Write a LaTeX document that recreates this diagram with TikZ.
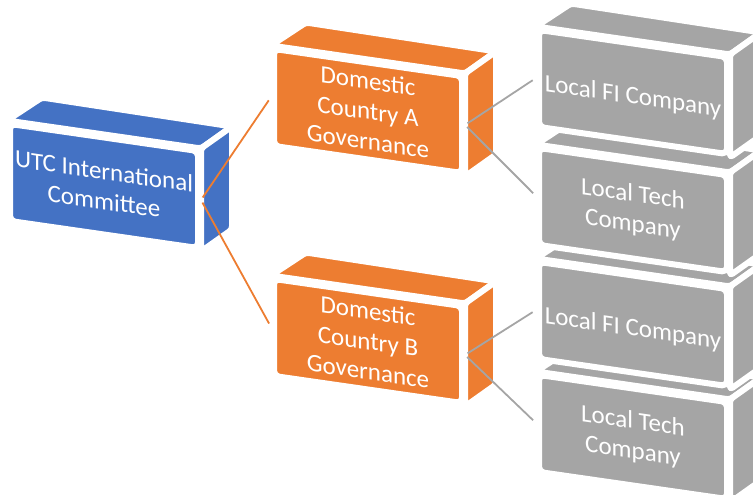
\documentclass[tikz,border=0pt]{standalone}
\usepackage{fontspec}
\setmainfont{Carlito}
\usetikzlibrary{calc}

\definecolor{utcblue}{HTML}{4472C4}
\definecolor{govorange}{HTML}{ED7D31}
\definecolor{localgray}{HTML}{A5A5A5}

% top and right face of a box, drawn from the corners of its front node
\newcommand{\sides}[2]{%
  \filldraw[side=#2] (#1.north west) -- (#1.north east) -- ++(31,-22) -- ($(#1.north west)+(35,-23)$) -- cycle;
  \filldraw[side=#2] (#1.north east) -- (#1.south east) -- ++(31,-22) -- ($(#1.north east)+(31,-22)$) -- cycle;}

\begin{document}
\begin{tikzpicture}[x=1pt,y=-1pt,
  front/.style={fill=#1, draw=white, line width=6pt, rounded corners=5pt,
    minimum width=188pt, minimum height=97pt, inner sep=0pt, yslant=-0.144,
    text=white, align=center, font=\fontsize{25}{30}\selectfont},
  side/.style={fill=#1, draw=white, line width=6pt, rounded corners=3pt, line join=round},
  wire/.style={line width=1.8pt, shorten <=3pt, shorten >=4pt}]

\useasboundingbox (0,0) rectangle (753,495);
\clip (0,0) rectangle (753,495);

% companies, lowest first so the upper ones lie on top
\node[front=localgray] (techB) at (633,437) {Local Tech\\Company};
\sides{techB}{localgray}
\node[front=localgray, text height=28pt] (fiB) at (633,324) {Local FI Company};
\sides{fiB}{localgray}
\node[front=localgray] (techA) at (633,210) {Local Tech\\Company};
\sides{techA}{localgray}
\node[front=localgray, text height=28pt] (fiA) at (633,92) {Local FI Company};
\sides{fiA}{localgray}

% governance
\node[front=govorange] (govB) at (368,341) {Domestic\\Country B\\Governance};
\sides{govB}{govorange}
\node[front=govorange] (govA) at (368,111) {Domestic\\Country A\\Governance};
\sides{govA}{govorange}

% committee
\node[front=utcblue] (utc) at (104,186) {UTC International\\Committee};
\sides{utc}{utcblue}

\draw[wire,govorange] (utc.east) -- (govA.west);
\draw[wire,govorange] (utc.east) -- (govB.west);

\draw[wire,localgray] (govA.east) -- (fiA.west);
\draw[wire,localgray] (govA.east) -- (techA.west);
\draw[wire,localgray] (govB.east) -- (fiB.west);
\draw[wire,localgray] (govB.east) -- (techB.west);

\end{tikzpicture}
\end{document}
